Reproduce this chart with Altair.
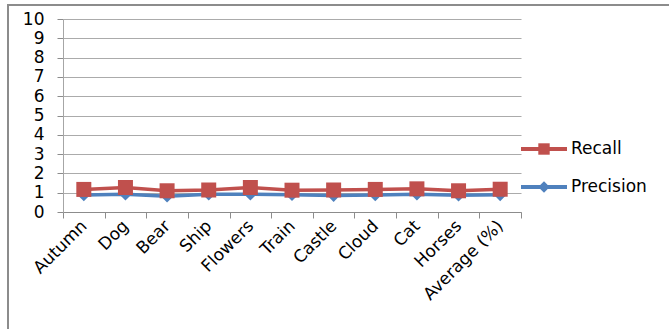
import altair as alt
import pandas as pd

categories = ["Autumn", "Dog", "Bear", "Ship", "Flowers", "Train", "Castle",
              "Cloud", "Cat", "Horses", "Average (%)"]
recall = [1.17, 1.27, 1.10, 1.14, 1.27, 1.13, 1.14, 1.17, 1.20, 1.10, 1.18]
precision = [0.88, 0.92, 0.82, 0.92, 0.92, 0.90, 0.85, 0.88, 0.92, 0.87, 0.89]
series_names = ["Recall", "Precision"]
series_colors = ["#C0504D", "#4F81BD"]
series_shapes = ["square", "diamond"]

rows = []
for c, r, p in zip(categories, recall, precision):
    rows.append({"cat": c, "series": "Recall", "value": r})
    rows.append({"cat": c, "series": "Precision", "value": p})
df = pd.DataFrame(rows)
leg_df = pd.DataFrame({"series": series_names})

FONT = "DejaVu Sans"
W, H = 458, 193
LEFT, TOP = 63, 19

x_enc = alt.X("cat:N", sort=categories, title=None,
              scale=alt.Scale(paddingInner=0, paddingOuter=0),
              axis=alt.Axis(labelAngle=-45, labelAlign="right", labelBaseline="middle",
                            labelFont=FONT, labelFontSize=17, labelColor="black",
                            labelPadding=5, tickBand="extent", tickSize=6,
                            tickColor="#8C8C8C", domainColor="#8C8C8C", grid=False))
y_enc = alt.Y("value:Q", title=None,
              scale=alt.Scale(domain=[0, 10], nice=False),
              axis=alt.Axis(values=list(range(11)), labelFont=FONT, labelFontSize=17,
                            labelColor="black", tickSize=6, tickColor="#8C8C8C",
                            domainColor="#A6A6A6", gridColor="#ABABAB", labelPadding=13))
color_scale = alt.Scale(domain=series_names, range=series_colors)

base = alt.Chart(df)

def series_layers(name, shape, size):
    sub = base.transform_filter(alt.datum.series == name)
    line = sub.mark_line(strokeWidth=3.5).encode(
        x=x_enc, y=y_enc, color=alt.Color("series:N", scale=color_scale, legend=None))
    pts = sub.mark_point(shape=shape, filled=True, size=size, opacity=1).encode(
        x=x_enc, y=y_enc, color=alt.Color("series:N", scale=color_scale, legend=None))
    return [line, pts]

frame = alt.Chart(pd.DataFrame({"f": [0]})).mark_rect(
    filled=False, stroke="#8C8C8C", strokeWidth=2).encode(
    x=alt.value(8 - LEFT), x2=alt.value(700), y=alt.value(5 - TOP), y2=alt.value(400))

data_group = alt.layer(frame, *series_layers("Precision", "diamond", 160),
                       *series_layers("Recall", "square", 225))

# legend (built from the series arrays)
leg_y = alt.Y("series:N", axis=None,
              scale=alt.Scale(type="point", domain=series_names,
                              range=[149 - TOP, 187 - TOP], padding=0))
leg_color = alt.Color("series:N", scale=color_scale, legend=None)
leg_base = alt.Chart(leg_df)
leg_line = leg_base.mark_rule(strokeWidth=4).encode(
    x=alt.value(521 - LEFT), x2=alt.value(567 - LEFT), y=leg_y, color=leg_color)
leg_pts = leg_base.mark_point(filled=True, size=130, opacity=1).encode(
    x=alt.value(544 - LEFT), y=leg_y, color=leg_color,
    shape=alt.Shape("series:N", scale=alt.Scale(domain=series_names, range=series_shapes),
                    legend=None))
leg_text = leg_base.mark_text(align="left", baseline="middle", font=FONT,
                              fontSize=17, color="black").encode(
    x=alt.value(571 - LEFT), y=leg_y, text="series:N")
legend_group = alt.layer(leg_line, leg_pts, leg_text)

chart = alt.layer(data_group, legend_group).resolve_scale(y="independent").properties(
    width=W, height=H,
    autosize=alt.AutoSizeParams(type="none"),
    padding={"left": LEFT, "top": TOP, "right": 669 - LEFT - W, "bottom": 329 - TOP - H},
    background="white",
).configure_view(stroke=None)

chart.save("out.html", embed_options={"renderer": "svg", "actions": False})
